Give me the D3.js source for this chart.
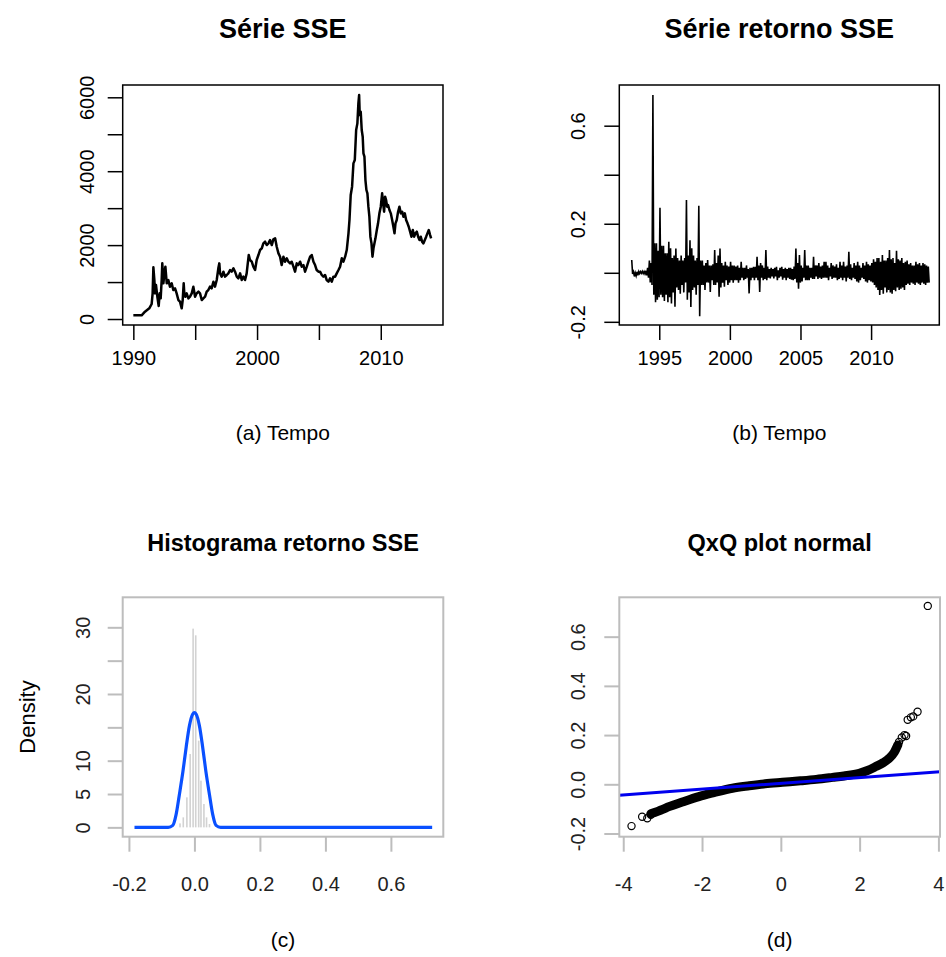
<!DOCTYPE html>
<html>
<head>
<meta charset="utf-8">
<title>SSE</title>
<script src="https://cdn.jsdelivr.net/npm/d3@7"></script>
<style>
  body{margin:0;background:#fff;}
  svg{font-family:"Liberation Sans",Arial,sans-serif;}
  .titulo{font-weight:bold;text-anchor:middle;fill:#000;}
  .rotulo{text-anchor:middle;fill:#000;}
</style>
</head>
<body>
<script>
// (a) série SSE
var sseAno = [1990.00,1990.67,1990.94,1991.29,1991.48,1991.56,1991.62,1991.70,1991.75,1991.83,1991.94,1992.05,1992.13,1992.21,1992.29,1992.34,1992.43,1992.51,1992.59,1992.70,1992.83,1992.96,1993.10,1993.23,1993.37,1993.50,1993.64,1993.77,1993.91,1993.99,1994.07,1994.12,1994.20,1994.31,1994.45,1994.58,1994.72,1994.85,1994.99,1995.12,1995.26,1995.39,1995.53,1995.66,1995.80,1995.93,1996.06,1996.20,1996.33,1996.47,1996.60,1996.74,1996.87,1996.95,1997.01,1997.14,1997.28,1997.41,1997.55,1997.68,1997.82,1997.95,1998.09,1998.22,1998.36,1998.49,1998.63,1998.76,1998.89,1999.03,1999.16,1999.25,1999.33,1999.43,1999.57,1999.70,1999.84,1999.97,2000.11,2000.24,2000.38,2000.51,2000.65,2000.78,2000.92,2001.05,2001.19,2001.32,2001.46,2001.59,2001.73,2001.86,
  2001.99,2002.13,2002.26,2002.40,2002.53,2002.67,2002.80,2002.94,2003.07,2003.21,2003.34,2003.48,2003.61,2003.75,2003.88,2004.02,2004.15,2004.29,2004.42,2004.56,2004.69,2004.82,2004.96,2005.09,2005.23,2005.36,2005.50,2005.63,2005.77,2005.90,2006.04,2006.17,2006.31,2006.44,2006.58,2006.71,2006.85,2006.98,2007.12,2007.25,2007.39,2007.47,2007.57,2007.68,2007.79,2007.90,2008.01,2008.11,2008.19,2008.25,2008.30,2008.38,2008.46,2008.54,2008.60,2008.68,2008.76,2008.84,2008.92,2009.00,2009.08,2009.16,2009.25,2009.33,2009.41,2009.49,2009.57,2009.68,2009.78,2009.89,2010.00,2010.11,2010.19,2010.27,2010.35,2010.43,2010.51,2010.59,2010.70,2010.81,2010.92,2011.02,2011.11,2011.19,2011.29,2011.40,2011.51,2011.62,2011.73,2011.83,2011.94,2012.05,2012.16,2012.26,2012.37,2012.48,2012.59,2012.70,2012.80,2012.91,2013.02,2013.13,2013.23,2013.34,2013.45,2013.56,2013.67,2013.77,2013.88,2013.99,2014.07];
var sseValor = [99,99,198,289,406,695,1398,1055,695,920,604,352,695,559,1055,1506,965,1236,1416,965,1055,875,965,785,830,695,514,469,289,514,965,695,604,695,559,604,695,875,604,695,740,695,514,559,604,740,785,875,830,1010,875,1055,1371,1506,1236,1146,1281,1146,1191,1236,1326,1281,1371,1281,1146,1100,1236,1055,1146,1055,1236,1506,1732,1597,1551,1416,1326,1597,1732,1867,1912,2048,2093,2002,2048,2138,2002,2156,2183,1957,1777,1687,
  1461,1687,1551,1642,1551,1506,1551,1416,1281,1506,1461,1551,1416,1461,1281,1416,1551,1687,1732,1551,1461,1326,1281,1281,1191,1146,1191,1055,1010,1100,1010,1146,1146,1236,1326,1416,1642,1551,1687,1867,2318,2679,3355,3581,4212,4303,5114,5295,5836,6061,5520,5610,5114,4934,4483,4393,3761,3491,3401,3040,2769,2228,2048,1687,1912,2048,2183,2408,2589,2859,3040,3401,3130,2904,3310,3220,3040,3085,2949,2859,2679,2498,2318,2589,2679,2904,3040,2859,2904,2769,2859,2679,2589,2498,2363,2228,2408,2228,2318,2363,2228,2138,2228,2093,2048,2138,2228,2318,2408,2273,2183];

// (b) retornos: máximo e mínimo lidos em cada intervalo de 1/8 de ano, a partir de 1993.05
var retInicio = 1993.05, retPasso = 0.125;
var retAlto = [0.052,0.004,0.0,0.004,0.005,0.005,0.006,0.005,0.008,0.02,
  0.05,0.04,0.725,0.12,0.12,0.09,0.265,0.11,0.11,0.08,
  0.08,0.127,0.1,0.06,0.07,0.099,0.06,0.05,0.07,0.05,
  0.06,0.297,0.07,0.133,0.1,0.07,0.05,0.06,0.273,0.05,
  0.05,0.03,0.04,0.052,0.03,0.03,0.035,0.093,0.04,0.07,
  0.099,0.04,0.03,0.045,0.03,0.025,0.045,0.03,0.03,0.025,
  0.03,0.02,0.045,0.02,0.02,0.03,0.015,0.02,0.02,0.024,
  0.024,0.065,0.03,0.04,0.03,0.02,0.093,0.025,0.015,0.02,
  0.015,0.02,0.024,0.01,0.02,0.024,0.015,0.02,0.015,0.02,
  0.02,0.015,0.025,0.099,0.04,0.072,0.03,0.02,0.093,0.03,
  0.03,0.02,0.02,0.065,0.03,0.03,0.04,0.025,0.03,0.045,
  0.045,0.03,0.02,0.04,0.03,0.025,0.035,0.02,0.045,0.03,
  0.045,0.025,0.03,0.086,0.035,0.02,0.04,0.03,0.045,0.03,
  0.02,0.04,0.03,0.045,0.035,0.03,0.04,0.055,0.045,0.06,
  0.06,0.045,0.072,0.05,0.05,0.06,0.093,0.055,0.06,0.04,
  0.09,0.055,0.05,0.06,0.04,0.045,0.05,0.035,0.04,0.03,
  0.03,0.045,0.035,0.04,0.03,0.04,0.035,0.03,0.025];
var retBaixo = [-0.005,-0.015,-0.012,-0.01,-0.003,-0.002,-0.003,-0.004,-0.01,-0.02,
  -0.04,-0.05,-0.09,-0.12,-0.11,-0.1,-0.09,-0.1,-0.115,-0.09,
  -0.12,-0.1,-0.125,-0.08,-0.139,-0.06,-0.07,-0.085,-0.05,-0.08,
  -0.04,-0.11,-0.08,-0.14,-0.07,-0.06,-0.09,-0.05,-0.177,-0.05,
  -0.05,-0.07,-0.04,-0.04,-0.078,-0.03,-0.05,-0.05,-0.04,-0.098,
  -0.06,-0.04,-0.057,-0.03,-0.05,-0.04,-0.03,-0.04,-0.03,-0.03,
  -0.04,-0.03,-0.02,-0.03,-0.025,-0.02,-0.084,-0.03,-0.02,-0.03,
  -0.02,-0.03,-0.078,-0.02,-0.03,-0.025,-0.03,-0.02,-0.023,-0.015,
  -0.023,-0.015,-0.03,-0.02,-0.015,-0.028,-0.02,-0.03,-0.02,-0.025,
  -0.028,-0.03,-0.025,-0.04,-0.065,-0.04,-0.035,-0.02,-0.03,-0.03,
  -0.03,-0.02,-0.025,-0.025,-0.015,-0.025,-0.02,-0.025,-0.02,-0.02,
  -0.02,-0.03,-0.015,-0.025,-0.02,-0.02,-0.03,-0.025,-0.02,-0.03,
  -0.02,-0.035,-0.02,-0.025,-0.03,-0.02,-0.025,-0.035,-0.04,-0.03,
  -0.02,-0.025,-0.035,-0.04,-0.03,-0.035,-0.04,-0.05,-0.06,-0.07,
  -0.091,-0.07,-0.085,-0.06,-0.08,-0.07,-0.08,-0.085,-0.07,-0.075,
  -0.06,-0.07,-0.065,-0.06,-0.07,-0.05,-0.045,-0.05,-0.04,-0.045,
  -0.05,-0.04,-0.045,-0.05,-0.04,-0.045,-0.05,-0.04,-0.04];

// (c) histograma e densidade normal
var histCentro = [-0.044,-0.034,-0.023,-0.013,-0.004,0.004,0.013,0.020,0.029,0.037,0.046];
var histDens = [0.6,1.5,4.5,11,29.8,28.8,13,7,3.5,1.5,0.5];
var densX = [-0.183,-0.08,-0.066,-0.056,-0.046,-0.035,-0.025,-0.015,-0.005,0,0.005,0.015,0.025,0.035,0.046,0.056,0.066,0.08,0.726];
var densY = [0,0,0.3,1.9,4.9,8.4,12.1,15.3,17.0,17.2,17.0,15.3,12.1,8.4,4.9,1.9,0.3,0,0];

// (d) QxQ: faixa densa de pontos + pontos soltos + reta
var qqTeor = [-3.30,-3.0,-2.84,-2.5,-2.08,-1.7,-1.23,-0.8,-0.4,0.04,0.5,0.9,1.31,1.6,1.99,2.2,2.41,2.6,2.75,2.88,2.97];
var qqAmostra = [-0.120,-0.102,-0.091,-0.072,-0.050,-0.034,-0.016,-0.006,0.002,0.008,0.014,0.020,0.028,0.034,0.045,0.056,0.072,0.088,0.106,0.130,0.160];
var qqSoltoTeor = [-3.79,-3.52,-3.39,-3.30,3.00,3.07,3.14,3.18,3.22,3.30,3.36,3.47,3.73];
var qqSoltoAmostra = [-0.170,-0.132,-0.138,-0.124,0.172,0.190,0.200,0.196,0.262,0.272,0.276,0.295,0.725];
var qqRetaX = [-4.10,4.04];
var qqRetaY = [-0.0442,0.0515];

// ticks e rótulos
var ticksA_x = [1990,1995,2000,2005,2010], labA_x = ["1990","","2000","","2010"];
var ticksA_y = [0,1000,2000,3000,4000,5000,6000], labA_y = ["0","","2000","","4000","","6000"];
var ticksB_x = [1995,2000,2005,2010], labB_x = ["1995","2000","2005","2010"];
var ticksB_y = [-0.2,0,0.2,0.4,0.6], labB_y = ["-0.2","","0.2","","0.6"];
var ticksC_x = [-0.2,0,0.2,0.4,0.6], labC_x = ["-0.2","0.0","0.2","0.4","0.6"];
var ticksC_y = [0,5,10,15,20,25,30], labC_y = ["0","5","10","","20","","30"];
var ticksD_x = [-4,-2,0,2,4], labD_x = ["-4","-2","0","2","4"];
var ticksD_y = [-0.2,0,0.2,0.4,0.6], labD_y = ["-0.2","0.0","0.2","0.4","0.6"];

var svg = d3.select("body").append("svg").attr("width",946).attr("height",957);

function painel(c){
  var w = c.caixa[2]-c.caixa[0], h = c.caixa[3]-c.caixa[1];
  var g = svg.append("g").attr("transform","translate("+c.caixa[0]+","+c.caixa[1]+")");
  var x = d3.scaleLinear().domain(c.xDom).range([0,w]);
  var y = d3.scaleLinear().domain(c.yDom).range([h,0]);

  var ax = g.append("g").attr("transform","translate(0,"+h+")")
    .call(d3.axisBottom(x).tickValues(c.xTicks).tickSize(15).tickFormat(function(d,i){return c.xLab[i];}));
  var ay = g.append("g")
    .call(d3.axisLeft(y).tickValues(c.yTicks).tickSize(15).tickFormat(function(d,i){return c.yLab[i];}));
  [ax,ay].forEach(function(a){
    a.attr("font-family",null).attr("font-size",null);
    a.select(".domain").remove();
    a.selectAll("line").attr("stroke",c.cor).attr("stroke-width",c.lw);
    a.selectAll("text").attr("fill",c.corTexto).style("font-size","20px");
  });
  ax.selectAll("text").attr("y",c.offX).attr("dy",0);
  ay.selectAll("text").attr("x",0).attr("y",-c.offY).attr("dy",0)
    .attr("transform","rotate(-90)").attr("text-anchor","middle");

  var id = "clip"+c.nome;
  g.append("clipPath").attr("id",id).append("rect").attr("width",w).attr("height",h);
  var area = g.append("g").attr("clip-path","url(#"+id+")");

  g.append("rect").attr("width",w).attr("height",h)
    .attr("fill","none").attr("stroke",c.cor).attr("stroke-width",c.lw);

  var cx = c.caixa[0]+w/2;
  svg.append("text").attr("class","titulo").attr("x",cx).attr("y",c.yTitulo)
    .style("font-size",c.fTitulo+"px").text(c.titulo);
  svg.append("text").attr("class","rotulo").attr("x",cx).attr("y",c.ySub)
    .style("font-size","21px").text(c.sub);
  return {g:g,area:area,x:x,y:y,w:w,h:h};
}

// (a)
var pa = painel({nome:"a",caixa:[122.7,85,443,325],xDom:[1989.14,2015.03],yDom:[-162,6333],
  xTicks:ticksA_x,xLab:labA_x,yTicks:ticksA_y,yLab:labA_y,cor:"#000",corTexto:"#000",lw:1.5,
  offX:40,offY:29,titulo:"Série SSE",fTitulo:27,yTitulo:38,sub:"(a) Tempo",ySub:440});
pa.area.append("path")
  .attr("d",d3.line().x(function(d,i){return pa.x(sseAno[i]);}).y(function(d){return pa.y(d);})(sseValor))
  .attr("fill","none").attr("stroke","#000").attr("stroke-width",2.5).attr("stroke-linejoin","round");

// (b) em cada intervalo a linha vai do máximo ao mínimo
var pb = painel({nome:"b",caixa:[619.3,85,939.3,325],xDom:[1992.17,2014.83],yDom:[-0.213,0.766],
  xTicks:ticksB_x,xLab:labB_x,yTicks:ticksB_y,yLab:labB_y,cor:"#000",corTexto:"#000",lw:1.5,
  offX:40,offY:34,titulo:"Série retorno SSE",fTitulo:27,yTitulo:38,sub:"(b) Tempo",ySub:440});
var retPontos = [];
retAlto.forEach(function(v,i){
  var t = retInicio+i*retPasso;
  retPontos.push([t,v]);
  retPontos.push([t+retPasso/2,retBaixo[i]]);
});
pb.area.append("path")
  .attr("d",d3.line().x(function(d){return pb.x(d[0]);}).y(function(d){return pb.y(d[1]);})(retPontos))
  .attr("fill","none").attr("stroke","#000").attr("stroke-width",1.6);

// (c)
var pc = painel({nome:"c",caixa:[122.7,597.3,443.3,836.7],xDom:[-0.219,0.760],yDom:[-1.4,34.5],
  xTicks:ticksC_x,xLab:labC_x,yTicks:ticksC_y,yLab:labC_y,cor:"#bdbdbd",corTexto:"#222",lw:2,
  offX:54,offY:33,titulo:"Histograma retorno SSE",fTitulo:23.5,yTitulo:551,sub:"(c)",ySub:947});
pc.area.selectAll("rect.barra").data(histDens).enter().append("rect").attr("class","barra")
  .attr("x",function(d,i){return pc.x(histCentro[i])-0.8;})
  .attr("width",1.6)
  .attr("y",function(d){return pc.y(d);})
  .attr("height",function(d){return pc.y(0)-pc.y(d);})
  .attr("fill","#d2d2d2");
pc.area.append("path")
  .attr("d",d3.line().curve(d3.curveMonotoneX).x(function(d,i){return pc.x(densX[i]);}).y(function(d){return pc.y(d);})(densY))
  .attr("fill","none").attr("stroke","#0a50ff").attr("stroke-width",3.2);
svg.append("text").attr("class","rotulo").attr("transform","translate(35,717) rotate(-90)")
  .style("font-size","22px").text("Density");

// (d)
var pd = painel({nome:"d",caixa:[619.3,597.3,940,836.7],xDom:[-4.10,4.04],yDom:[-0.213,0.760],
  xTicks:ticksD_x,xLab:labD_x,yTicks:ticksD_y,yLab:labD_y,cor:"#bdbdbd",corTexto:"#222",lw:2,
  offX:54,offY:34,titulo:"QxQ plot normal",fTitulo:23.5,yTitulo:551,sub:"(d)",ySub:947});
pd.area.append("path")
  .attr("d",d3.line().curve(d3.curveMonotoneX).x(function(d,i){return pd.x(qqTeor[i]);}).y(function(d){return pd.y(d);})(qqAmostra))
  .attr("fill","none").attr("stroke","#000").attr("stroke-width",9).attr("stroke-linecap","round");
pd.area.selectAll("circle").data(qqSoltoAmostra).enter().append("circle")
  .attr("cx",function(d,i){return pd.x(qqSoltoTeor[i]);})
  .attr("cy",function(d){return pd.y(d);})
  .attr("r",3.6).attr("fill","none").attr("stroke","#000").attr("stroke-width",1.2);
pd.area.append("path")
  .attr("d",d3.line().x(function(d,i){return pd.x(qqRetaX[i]);}).y(function(d){return pd.y(d);})(qqRetaY))
  .attr("stroke","#0000ee").attr("stroke-width",3);
</script>
</body>
</html>
